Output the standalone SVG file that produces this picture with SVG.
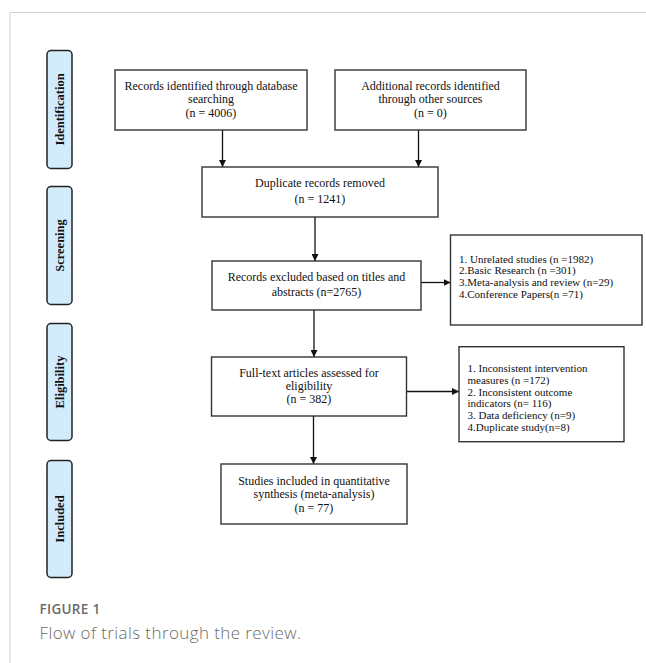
<svg xmlns="http://www.w3.org/2000/svg" width="646" height="663" viewBox="0 0 646 663">
<defs>
<marker id="ah" viewBox="0 0 8 8" refX="8" refY="4" markerWidth="7" markerHeight="7" markerUnits="userSpaceOnUse" orient="auto">
<path d="M0,0 L8,4 L0,8 z" fill="#111"/>
</marker>
<style>
.box{fill:#fff;stroke:#333;stroke-width:1.4}
.lab{fill:#d3ecfb;stroke:#222;stroke-width:1.5}
.t{font-family:"Liberation Serif","Times New Roman",serif;font-size:12px;fill:#111;text-anchor:middle}
.s{font-family:"Liberation Serif","Times New Roman",serif;font-size:11px;fill:#111}
.lt{font-family:"Liberation Serif","Times New Roman",serif;font-size:12.5px;font-weight:bold;fill:#111;text-anchor:middle}
.c{stroke:#111;stroke-width:1.3;fill:none;marker-end:url(#ah)}
.cap1{font-family:"Open Sans",sans-serif;font-size:13.5px;font-weight:600;fill:#6b6b6b;letter-spacing:0.3px}
.cap2{font-family:"Open Sans",sans-serif;font-size:17px;font-weight:300;fill:#6b6b6b;letter-spacing:0.4px}
</style>
</defs>
<rect width="646" height="663" fill="#fff"/>
<path d="M10,663 V12.5 H646" fill="none" stroke="#cfcfcf" stroke-width="1"/>

<g id="label-identification"><rect class="lab" x="47" y="50.5" width="25" height="118" rx="4"/><text class="lt" transform="translate(63.5,109.5) rotate(-90)">Identification</text></g>
<g id="label-screening"><rect class="lab" x="47" y="186.5" width="25" height="118" rx="4"/><text class="lt" transform="translate(63.5,245.5) rotate(-90)">Screening</text></g>
<g id="label-eligibility"><rect class="lab" x="47" y="323.5" width="25" height="117" rx="4"/><text class="lt" transform="translate(63.5,382) rotate(-90)">Eligibility</text></g>
<g id="label-included"><rect class="lab" x="47" y="460.5" width="25" height="117" rx="4"/><text class="lt" transform="translate(63.5,519) rotate(-90)">Included</text></g>

<g id="connectors">
<line class="c" x1="222.5" y1="130" x2="222.5" y2="167"/>
<line class="c" x1="418.5" y1="130" x2="418.5" y2="167"/>
<line class="c" x1="315" y1="217" x2="315" y2="261"/>
<line class="c" x1="421" y1="282.5" x2="450.5" y2="282.5"/>
<line class="c" x1="314" y1="310" x2="314" y2="357"/>
<line class="c" x1="406.5" y1="391.5" x2="459" y2="391.5"/>
<line class="c" x1="313.5" y1="416" x2="313.5" y2="464"/>
</g>

<g id="records-db"><rect class="box" x="115" y="70" width="192" height="60"/>
<text class="t" x="211" y="89.5">Records identified through database</text>
<text class="t" x="211" y="103">searching</text>
<text class="t" x="211" y="116.5">(n = 4006)</text></g>

<g id="records-other"><rect class="box" x="335" y="70" width="191" height="60"/>
<text class="t" x="430.5" y="89.5">Additional records identified</text>
<text class="t" x="430.5" y="103">through other sources</text>
<text class="t" x="430.5" y="116.5">(n = 0)</text></g>

<g id="duplicates"><rect class="box" x="202" y="167" width="236" height="50"/>
<text class="t" x="320" y="186.7">Duplicate records removed</text>
<text class="t" x="320" y="203.3">(n = 1241)</text></g>

<g id="excluded-titles"><rect class="box" x="212" y="261" width="209" height="49"/>
<text class="t" x="316.5" y="280.7">Records excluded based on titles and</text>
<text class="t" x="316.5" y="296.3">abstracts (n=2765)</text></g>

<g id="excluded-reasons-1"><rect class="box" x="450.5" y="235" width="191.5" height="90"/>
<text class="s" x="459" y="262.7">1. Unrelated studies (n =1982)</text>
<text class="s" x="459" y="274.4">2.Basic Research (n =301)</text>
<text class="s" x="459" y="286.1">3.Meta-analysis and review (n=29)</text>
<text class="s" x="459" y="297.8">4.Conference Papers(n =71)</text></g>

<g id="full-text"><rect class="box" x="211.5" y="357" width="195" height="59"/>
<text class="t" x="309" y="376.7">Full-text articles assessed for</text>
<text class="t" x="309" y="390">eligibility</text>
<text class="t" x="309" y="403.3">(n = 382)</text></g>

<g id="excluded-reasons-2"><rect class="box" x="459" y="346.7" width="165" height="95"/>
<text class="s" x="467.5" y="372.1">1. Inconsistent intervention</text>
<text class="s" x="467.5" y="383.8">measures (n =172)</text>
<text class="s" x="467.5" y="395.5">2. Inconsistent outcome</text>
<text class="s" x="467.5" y="407.2">indicators (n= 116)</text>
<text class="s" x="467.5" y="418.9">3. Data deficiency (n=9)</text>
<text class="s" x="467.5" y="430.6">4.Duplicate study(n=8)</text></g>

<g id="included"><rect class="box" x="221" y="464" width="186" height="60"/>
<text class="t" x="314" y="484.7">Studies included in quantitative</text>
<text class="t" x="314" y="498.3">synthesis (meta-analysis)</text>
<text class="t" x="314" y="512.3">(n = 77)</text></g>

<text class="cap1" x="39.5" y="614">FIGURE 1</text>
<text class="cap2" x="39.5" y="639">Flow of trials through the review.</text>
</svg>
